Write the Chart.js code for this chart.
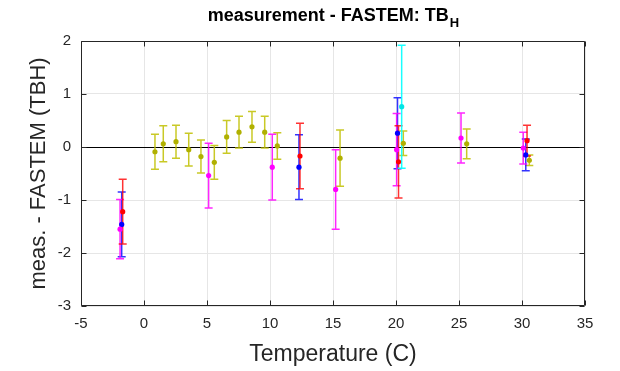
<!DOCTYPE html>
<html><head><meta charset="utf-8">
<script src="https://cdn.jsdelivr.net/npm/chart.js@4.4.1/dist/chart.umd.min.js"></script>
<style>html,body{margin:0;padding:0;background:#fff}#wrap{width:620px;height:371px}</style>
</head><body><div id="wrap"><canvas id="c" width="620" height="371"></canvas></div>
<script>
const xTicks = [-5,0,5,10,15,20,25,30,35];
const yTicks = [-3,-2,-1,0,1,2];

const oliveX = [0.87,1.53,2.54,3.55,4.52,5.58,6.56,7.54,8.57,9.58,10.58,15.56,20.58,25.61,30.58];
const oliveY = [-0.09,0.06,0.10,-0.05,-0.18,-0.29,0.19,0.28,0.38,0.28,0.02,-0.21,0.07,0.06,-0.25];
const oliveE = [0.33,0.34,0.31,0.31,0.31,0.32,0.31,0.30,0.29,0.30,0.25,0.53,0.23,0.28,0.10];

const blueX = [-1.77,12.3,20.12,30.3];
const blueY = [-1.46,-0.38,0.26,-0.15];
const blueE = [0.61,0.61,0.67,0.30];

const magentaX = [-1.9,5.13,10.18,15.21,20.05,25.16,30.1];
const magentaY = [-1.55,-0.54,-0.38,-0.80,-0.05,0.17,-0.02];
const magentaE = [0.56,0.61,0.62,0.75,0.68,0.47,0.30];

const redX = [-1.69,12.38,20.2,30.4];
const redY = [-1.22,-0.17,-0.28,0.12];
const redE = [0.61,0.62,0.68,0.29];

const cyanX = [20.45];
const cyanY = [0.76];
const cyanE = [1.16];

const FONT = '"Liberation Sans", Arial, Helvetica, sans-serif';
const AX = '#262626';

function mk(xs, ys, es, color, dot) {
  return {
    data: xs.map((x,i)=>({x:x, y:ys[i]})),
    errs: es,
    barColor: color,
    backgroundColor: dot, borderColor: dot,
    pointRadius: 2.6, pointBorderWidth: 0, showLine: false
  };
}

const datasets = [
  mk(cyanX, cyanY, cyanE, 'rgba(0,255,255,0.9)', '#00e5e5'),
  mk(redX, redY, redE, 'rgba(255,0,0,0.8)', '#ff0000'),
  mk(magentaX, magentaY, magentaE, 'rgba(255,0,255,0.85)', '#ff00ff'),
  mk(blueX, blueY, blueE, 'rgba(0,0,255,0.8)', '#0000ff'),
  mk(oliveX, oliveY, oliveE, 'rgba(191,191,0,0.85)', '#b0b000')
];

const errPlugin = {
  id: 'err',
  beforeDatasetsDraw(chart) {
    const {ctx, chartArea: a, scales: {x, y}} = chart;
    ctx.save();
    ctx.strokeStyle = '#000'; ctx.lineWidth = 1;
    const y0 = Math.round(y.getPixelForValue(0)) + 0.5;
    ctx.beginPath(); ctx.moveTo(a.left, y0); ctx.lineTo(a.right, y0); ctx.stroke();
    for (let d = chart.data.datasets.length - 1; d >= 0; d--) {
      const ds = chart.data.datasets[d];
      ctx.strokeStyle = ds.barColor; ctx.lineWidth = 1.5;
      ds.data.forEach((p, i) => {
        const px = x.getPixelForValue(p.x);
        const top = y.getPixelForValue(p.y + ds.errs[i]);
        const bot = y.getPixelForValue(p.y - ds.errs[i]);
        ctx.beginPath();
        ctx.moveTo(px, top); ctx.lineTo(px, bot);
        ctx.moveTo(px - 4, top); ctx.lineTo(px + 4, top);
        ctx.moveTo(px - 4, bot); ctx.lineTo(px + 4, bot);
        ctx.stroke();
      });
    }
    ctx.restore();
  },
  afterDraw(chart) {
    const {ctx, chartArea: a, scales: {x, y}} = chart;
    ctx.save();
    ctx.strokeStyle = AX; ctx.lineWidth = 1;
    const L = Math.round(a.left) + 0.5, R = Math.round(a.right) - 0.5;
    const T = Math.round(a.top) + 0.5, B = Math.round(a.bottom) - 0.5;
    ctx.beginPath(); ctx.rect(L, T, R - L, B - T); ctx.stroke();
    ctx.beginPath();
    xTicks.forEach(v => { const p = Math.round(x.getPixelForValue(v)) + 0.5;
      ctx.moveTo(p, B); ctx.lineTo(p, B - 5); ctx.moveTo(p, T); ctx.lineTo(p, T + 5); });
    yTicks.forEach(v => { const p = Math.round(y.getPixelForValue(v)) + 0.5;
      ctx.moveTo(L, p); ctx.lineTo(L + 5, p); ctx.moveTo(R, p); ctx.lineTo(R - 5, p); });
    ctx.stroke();
    const main = 'measurement - FASTEM: TB', sub = 'H';
    ctx.fillStyle = '#000';
    ctx.font = 'bold 18px ' + FONT;
    const w1 = ctx.measureText(main).width;
    ctx.font = 'bold 13px ' + FONT;
    const w2 = ctx.measureText(sub).width;
    const cx = (a.left + a.right) / 2;
    const sx = cx - (w1 + w2) / 2;
    ctx.textBaseline = 'alphabetic'; ctx.textAlign = 'left';
    ctx.font = 'bold 18px ' + FONT;
    ctx.fillText(main, sx, 21);
    ctx.font = 'bold 13px ' + FONT;
    ctx.fillText(sub, sx + w1 + 1, 27);
    ctx.restore();
  }
};

new Chart(document.getElementById('c'), {
  type: 'scatter',
  data: { datasets },
  options: {
    responsive: false, animation: false, devicePixelRatio: 1,
    layout: { padding: { top: 41, right: 35, left: 0, bottom: 0 } },
    plugins: { legend: { display: false }, tooltip: { enabled: false }, title: { display: false } },
    scales: {
      x: {
        type: 'linear', min: -5, max: 35,
        afterFit: s => { s.height = 65; },
        afterBuildTicks: s => { s.ticks = xTicks.map(v => ({value: v})); },
        grid: { color: '#e6e6e6', drawTicks: false },
        border: { display: false },
        ticks: { color: AX, font: { family: FONT, size: 15 }, padding: 9, maxRotation: 0 },
        title: { display: true, text: 'Temperature (C)', color: AX, font: { family: FONT, size: 23 }, padding: { bottom: 3 } }
      },
      y: {
        type: 'linear', min: -3, max: 2,
        afterFit: s => { s.width = 81; },
        afterBuildTicks: s => { s.ticks = yTicks.map(v => ({value: v})); },
        grid: { color: '#e6e6e6', drawTicks: false },
        border: { display: false },
        ticks: { color: AX, font: { family: FONT, size: 15 }, padding: 10 },
        title: { display: true, text: 'meas. - FASTEM (TBH)', color: AX, font: { family: FONT, size: 22 }, padding: { top: 26 } }
      }
    }
  },
  plugins: [errPlugin]
});
</script></body></html>
